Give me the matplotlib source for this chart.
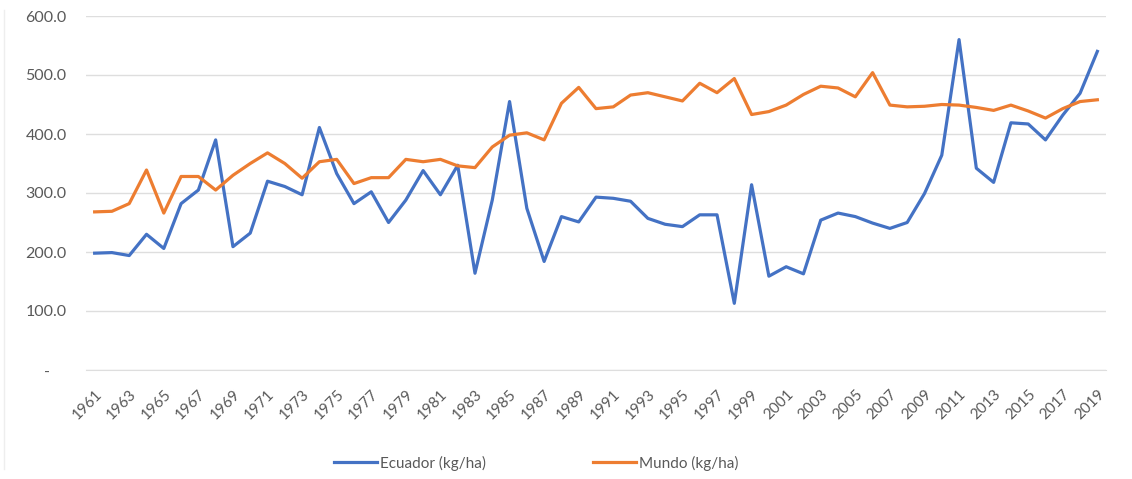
import numpy as np
import matplotlib
matplotlib.use("Agg")
from matplotlib import pyplot as plt
from matplotlib.ticker import FuncFormatter

# años y rendimientos (kg/ha)
years = list(range(1961, 2020))

ecuador = [198, 199, 194, 230, 206, 282, 305, 390, 209, 232,
           320, 311, 297, 411, 333, 282, 302, 250, 288, 338,
           297, 347, 164, 288, 455, 274, 184, 260, 251, 293,
           291, 286, 257, 247, 243, 263, 263, 113, 314, 159,
           175, 163, 254, 266, 260, 249, 240, 250, 299, 364,
           560, 342, 318, 419, 417, 390, 432, 469, 540]

mundo = [268, 269, 282, 339, 266, 328, 328, 305, 330, 350,
         368, 350, 325, 353, 357, 316, 326, 326, 357, 353,
         357, 346, 343, 378, 398, 402, 390, 452, 479, 443,
         446, 466, 470, 463, 456, 486, 470, 494, 433, 438,
         449, 467, 481, 478, 463, 504, 449, 446, 447, 450,
         449, 445, 440, 449, 439, 427, 443, 455, 458]

y_ticks = [0, 100, 200, 300, 400, 500, 600]

plt.rcParams['font.family'] = ['Lato', 'DejaVu Sans']


def fmt_y(v, pos):
    # formato contable: cero como guion
    if v == 0:
        return '-    '
    return '%.1f' % v


def main():
    fig = plt.figure(figsize=(11.32, 4.79), dpi=100)
    ax = fig.add_axes([86 / 1132, 1 - 370 / 479, (1106 - 86) / 1132, (370 - 16) / 479])

    x = np.arange(len(years))
    ax.plot(x, ecuador, color='#4472C4', lw=2.3, label='Ecuador (kg/ha)',
            solid_joinstyle='round')
    ax.plot(x, mundo, color='#ED7D31', lw=2.3, label='Mundo (kg/ha)',
            solid_joinstyle='round')

    ax.set_xlim(-0.5, len(years) - 0.5)
    ax.set_ylim(0, 600)
    ax.set_yticks(y_ticks)
    ax.yaxis.set_major_formatter(FuncFormatter(fmt_y))
    ax.grid(axis='y', color='#DEDEDE', lw=1)
    ax.set_axisbelow(True)

    ax.set_xticks(x[::2])
    ax.set_xticklabels([str(y) for y in years[::2]], rotation=45,
                       ha='right', rotation_mode='anchor')

    for s in ['top', 'right', 'left']:
        ax.spines[s].set_visible(False)
    ax.spines['bottom'].set_color('#DEDEDE')

    ax.tick_params(axis='both', length=0, colors='#595959')
    ax.tick_params(axis='y', pad=14, labelsize=11.5)
    ax.tick_params(axis='x', pad=12, labelsize=11)

    # borde tenue del area del grafico a la izquierda
    fig.add_artist(plt.Line2D([4 / 1132, 4 / 1132], [0.02, 0.98],
                              transform=fig.transFigure, color='#EEEEEE', lw=1))

    fig.legend(loc='center', bbox_to_anchor=(536 / 1132, 1 - 463 / 479),
               ncol=2, frameon=False, fontsize=11, labelcolor='#595959',
               handlelength=2.8, columnspacing=7, handletextpad=0.2)

    fig.savefig('out.png', dpi=100)


if __name__ == "__main__":
    main()
